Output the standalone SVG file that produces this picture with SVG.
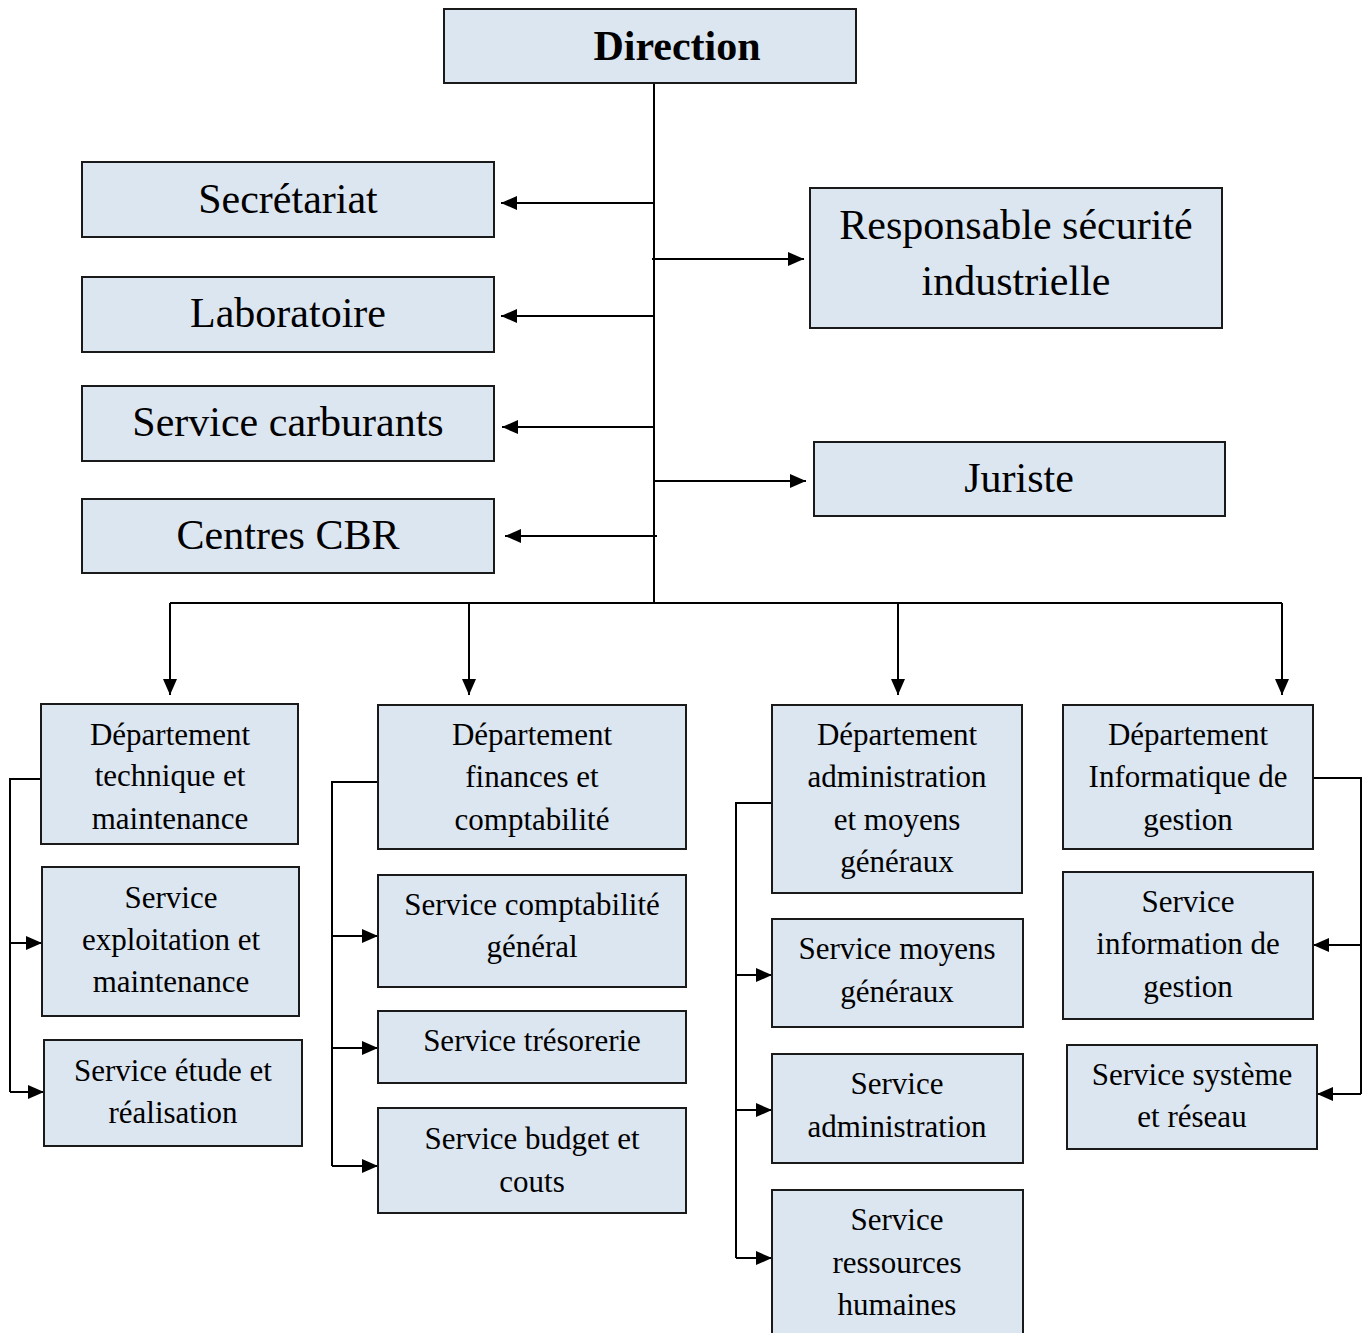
<svg xmlns="http://www.w3.org/2000/svg" width="1370" height="1333" viewBox="0 0 1370 1333">
<style>
.box{fill:#dce6f1;stroke:#1a1a1a;stroke-width:2}
.t{font-family:"Liberation Serif","Times New Roman",serif;fill:#000;text-anchor:middle}
.big{font-size:42px}
.sm{font-size:31px}
.b{font-weight:bold}
.c{fill:none;stroke:#000;stroke-width:2}
</style>
<defs>
<marker id="ah" markerUnits="userSpaceOnUse" markerWidth="16" markerHeight="14" refX="16" refY="7" orient="auto">
<path d="M0,0 L16,7 L0,14 z" fill="#000"/>
</marker>
</defs>
<rect width="1370" height="1333" fill="#fff"/>
<g id="connectors">
<path class="c" d="M654,83 V603"/>
<path class="c" marker-end="url(#ah)" d="M654,203 H501"/>
<path class="c" marker-end="url(#ah)" d="M654,316 H501"/>
<path class="c" marker-end="url(#ah)" d="M654,427 H502"/>
<path class="c" marker-end="url(#ah)" d="M657,536 H505"/>
<path class="c" marker-end="url(#ah)" d="M652,259 H804"/>
<path class="c" marker-end="url(#ah)" d="M654,481 H806"/>
<path class="c" d="M170,603 H1282"/>
<path class="c" marker-end="url(#ah)" d="M170,603 V695"/>
<path class="c" marker-end="url(#ah)" d="M469,603 V695"/>
<path class="c" marker-end="url(#ah)" d="M898,603 V695"/>
<path class="c" marker-end="url(#ah)" d="M1282,603 V695"/>
<path class="c" d="M41,779 H10 V1092"/>
<path class="c" marker-end="url(#ah)" d="M10,943 H42"/>
<path class="c" marker-end="url(#ah)" d="M10,1092 H44"/>
<path class="c" d="M378,782 H332 V1166"/>
<path class="c" marker-end="url(#ah)" d="M332,936 H378"/>
<path class="c" marker-end="url(#ah)" d="M332,1048 H378"/>
<path class="c" marker-end="url(#ah)" d="M332,1166 H378"/>
<path class="c" d="M772,803 H736 V1258"/>
<path class="c" marker-end="url(#ah)" d="M736,975 H772"/>
<path class="c" marker-end="url(#ah)" d="M736,1110 H772"/>
<path class="c" marker-end="url(#ah)" d="M736,1258 H772"/>
<path class="c" d="M1313,778 H1361 V1094"/>
<path class="c" marker-end="url(#ah)" d="M1361,945 H1313"/>
<path class="c" marker-end="url(#ah)" d="M1361,1094 H1317"/>
</g>
<g id="direction"><rect class="box" x="444" y="9" width="412" height="74"/><text class="t big b" x="677" y="60">Direction</text></g>
<g id="secretariat"><rect class="box" x="82" y="162" width="412" height="75"/><text class="t big" x="288" y="213">Secrétariat</text></g>
<g id="laboratoire"><rect class="box" x="82" y="277" width="412" height="75"/><text class="t big" x="288" y="327">Laboratoire</text></g>
<g id="carburants"><rect class="box" x="82" y="386" width="412" height="75"/><text class="t big" x="288" y="436">Service carburants</text></g>
<g id="cbr"><rect class="box" x="82" y="499" width="412" height="74"/><text class="t big" x="288" y="549">Centres CBR</text></g>
<g id="securite"><rect class="box" x="810" y="188" width="412" height="140"/><text class="t big" x="1016" y="239">Responsable sécurité</text><text class="t big" x="1016" y="295">industrielle</text></g>
<g id="juriste"><rect class="box" x="814" y="442" width="411" height="74"/><text class="t big" x="1019" y="492">Juriste</text></g>

<g id="dept-tech"><rect class="box" x="41" y="704" width="257" height="140"/><text class="t sm" x="170" y="745">Département</text><text class="t sm" x="170" y="786">technique et</text><text class="t sm" x="170" y="829">maintenance</text></g>
<g id="svc-exploit"><rect class="box" x="42" y="867" width="257" height="149"/><text class="t sm" x="171" y="908">Service</text><text class="t sm" x="171" y="950">exploitation et</text><text class="t sm" x="171" y="992">maintenance</text></g>
<g id="svc-etude"><rect class="box" x="44" y="1040" width="258" height="106"/><text class="t sm" x="173" y="1081">Service étude et</text><text class="t sm" x="173" y="1123">réalisation</text></g>

<g id="dept-fin"><rect class="box" x="378" y="705" width="308" height="144"/><text class="t sm" x="532" y="745">Département</text><text class="t sm" x="532" y="787">finances et</text><text class="t sm" x="532" y="830">comptabilité</text></g>
<g id="svc-compta"><rect class="box" x="378" y="875" width="308" height="112"/><text class="t sm" x="532" y="915">Service comptabilité</text><text class="t sm" x="532" y="957">général</text></g>
<g id="svc-treso"><rect class="box" x="378" y="1011" width="308" height="72"/><text class="t sm" x="532" y="1051">Service trésorerie</text></g>
<g id="svc-budget"><rect class="box" x="378" y="1108" width="308" height="105"/><text class="t sm" x="532" y="1149">Service budget et</text><text class="t sm" x="532" y="1192">couts</text></g>

<g id="dept-admin"><rect class="box" x="772" y="705" width="250" height="188"/><text class="t sm" x="897" y="745">Département</text><text class="t sm" x="897" y="787">administration</text><text class="t sm" x="897" y="830">et moyens</text><text class="t sm" x="897" y="872">généraux</text></g>
<g id="svc-moyens"><rect class="box" x="772" y="919" width="251" height="108"/><text class="t sm" x="897" y="959">Service moyens</text><text class="t sm" x="897" y="1002">généraux</text></g>
<g id="svc-admin"><rect class="box" x="772" y="1054" width="251" height="109"/><text class="t sm" x="897" y="1094">Service</text><text class="t sm" x="897" y="1137">administration</text></g>
<g id="svc-rh"><rect class="box" x="772" y="1190" width="251" height="160"/><text class="t sm" x="897" y="1230">Service</text><text class="t sm" x="897" y="1273">ressources</text><text class="t sm" x="897" y="1315">humaines</text></g>

<g id="dept-info"><rect class="box" x="1063" y="705" width="250" height="144"/><text class="t sm" x="1188" y="745">Département</text><text class="t sm" x="1188" y="787">Informatique de</text><text class="t sm" x="1188" y="830">gestion</text></g>
<g id="svc-info"><rect class="box" x="1063" y="872" width="250" height="147"/><text class="t sm" x="1188" y="912">Service</text><text class="t sm" x="1188" y="954">information de</text><text class="t sm" x="1188" y="997">gestion</text></g>
<g id="svc-systeme"><rect class="box" x="1067" y="1045" width="250" height="104"/><text class="t sm" x="1192" y="1085">Service système</text><text class="t sm" x="1192" y="1127">et réseau</text></g>
</svg>
